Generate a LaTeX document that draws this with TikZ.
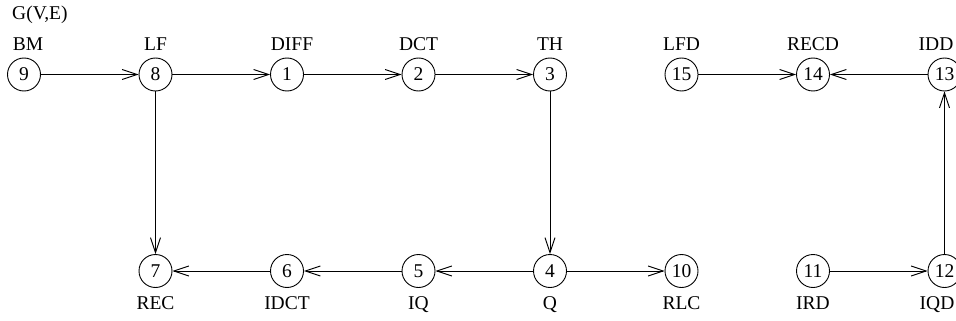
\documentclass[tikz,border=0pt]{standalone}
\usepackage{fontspec}
\setmainfont{Liberation Serif}
\usetikzlibrary{arrows.meta}
\begin{document}
\begin{tikzpicture}[x=1pt,y=-1pt,
  every node/.style={font=\fontsize{19.5}{22}\selectfont},
  vertex/.style={draw,circle,line width=0.9pt,minimum size=33pt,inner sep=0pt},
  tag/.style={anchor=base,inner sep=0pt},
  edge/.style={line width=0.9pt,-{Straight Barb[length=15pt,width=10pt,line width=0.9pt]}}]
\useasboundingbox (0,0) rectangle (956,321);
% vertices, top row
\node[vertex] (n9)  at (24,74.5)    {9};
\node[vertex] (n8)  at (155.5,74.5) {8};
\node[vertex] (n1)  at (287,74.5)   {1};
\node[vertex] (n2)  at (418.5,74.5) {2};
\node[vertex] (n3)  at (550,74.5)   {3};
\node[vertex] (n15) at (681.5,74.5) {15};
\node[vertex] (n14) at (813,74.5)   {14};
\node[vertex] (n13) at (944.5,74.5) {13};
% vertices, bottom row
\node[vertex] (n7)  at (155.5,271) {7};
\node[vertex] (n6)  at (287,271)   {6};
\node[vertex] (n5)  at (418.5,271) {5};
\node[vertex] (n4)  at (550,271)   {4};
\node[vertex] (n10) at (681.5,271) {10};
\node[vertex] (n11) at (813,271)   {11};
\node[vertex] (n12) at (944.5,271) {12};
% names
\node[tag,anchor=base west] (title) at (12,20) {G(V,E)};
\node[tag] (t9)  at (28,51)    {BM};
\node[tag] (t8)  at (155.5,51) {LF};
\node[tag] (t1)  at (292,51)   {DIFF};
\node[tag] (t2)  at (418.5,51) {DCT};
\node[tag] (t3)  at (550,51)   {TH};
\node[tag] (t15) at (681.5,51) {LFD};
\node[tag] (t14) at (813,51)   {RECD};
\node[tag] (t13) at (936,51)   {IDD};
\node[tag] (t7)  at (155.5,309) {REC};
\node[tag] (t6)  at (287,309)   {IDCT};
\node[tag] (t5)  at (418.5,309) {IQ};
\node[tag] (t4)  at (550,309)   {Q};
\node[tag] (t10) at (681.5,309) {RLC};
\node[tag] (t11) at (813,309)   {IRD};
\node[tag] (t12) at (937,309)   {IQD};
% edges
\draw[edge] (n9) -- (n8);
\draw[edge] (n8) -- (n1);
\draw[edge] (n1) -- (n2);
\draw[edge] (n2) -- (n3);
\draw[edge] (n3) -- (n4);
\draw[edge] (n8) -- (n7);
\draw[edge] (n4) -- (n5);
\draw[edge] (n5) -- (n6);
\draw[edge] (n6) -- (n7);
\draw[edge] (n4) -- (n10);
\draw[edge] (n15) -- (n14);
\draw[edge] (n13) -- (n14);
\draw[edge] (n11) -- (n12);
\draw[edge] (n12) -- (n13);
\end{tikzpicture}
\end{document}
